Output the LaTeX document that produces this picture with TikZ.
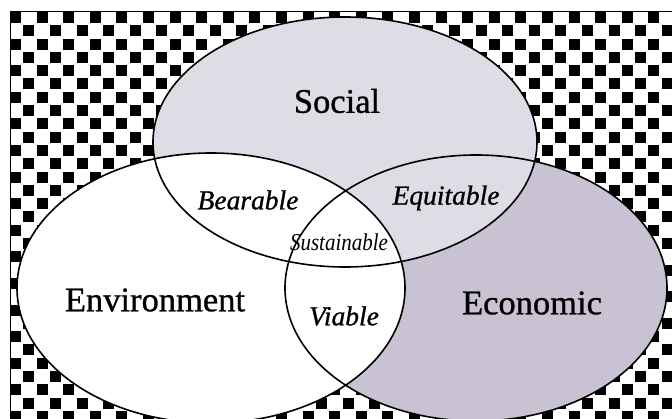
\documentclass[tikz,border=0pt]{standalone}
\usepackage{fontspec}
\setmainfont{Liberation Serif}
\newfontfamily\setlabelfont[FakeBold=0.9]{Liberation Serif}
\usetikzlibrary{shapes.geometric}

\definecolor{socialfill}{RGB}{222,220,229}
\definecolor{econfill}{RGB}{201,194,211}

\tikzset{
  setfill/.style={ellipse, inner sep=0pt, outer sep=0pt},
  setline/.style={draw=black, line width=1.6pt},
  mainlabel/.style={font=\setlabelfont\fontsize{34.5}{38}\selectfont, inner sep=0pt},
  overlap/.style={font=\setlabelfont\fontsize{27.5}{32}\selectfont\itshape, inner sep=0pt},
  core/.style={font=\fontsize{21}{25}\selectfont\itshape, inner sep=0pt, yscale=1.15}
}

\begin{document}
\begin{tikzpicture}[x=1pt, y=-1pt]
  \useasboundingbox (0,0) rectangle (672,419);
  \fill[white] (0,0) rectangle (672,419);

  % chequered backdrop
  \begin{scope}
    \clip (10,12) rectangle (672,419);
    \foreach \i in {0,...,49} {
      \foreach \j in {0,...,30} {
        \pgfmathtruncatemacro{\cellparity}{mod(\i+\j,2)}
        \ifnum\cellparity=0
          \fill[black] ({10+13.3*\i},{12+13.3*\j}) rectangle ++(11,11);
        \fi
      }
    }
  \end{scope}
  \draw[line width=1pt] (672,12) -- (10,12) -- (10,419);

  % filled sets, back to front
  \node[setfill, fill=econfill, minimum width=382pt, minimum height=266pt] (econ) at (476,288) {};
  \node[setfill, fill=socialfill, minimum width=384pt, minimum height=250pt] (social) at (345,142) {};
  \node[setfill, fill=white, minimum width=388pt, minimum height=270pt] (env) at (211,288) {};

  % outlines of all three sets
  \draw[setline] (econ.center) ellipse [x radius=191, y radius=133];
  \draw[setline] (social.center) ellipse [x radius=192, y radius=125];
  \draw[setline] (env.center) ellipse [x radius=194, y radius=135];

  % labels
  \node[mainlabel] (lsocial) at (337,101) {Social};
  \node[mainlabel] (lenv) at (155,300) {Environment};
  \node[mainlabel] (lecon) at (532,303) {Economic};
  \node[overlap] (lbear) at (248,200) {Bearable};
  \node[overlap] (lequi) at (446,198) {Equitable};
  \node[overlap] (lvia) at (344,316) {Viable};
  \node[core, transform shape] (lsus) at (339,242) {Sustainable};
\end{tikzpicture}
\end{document}
